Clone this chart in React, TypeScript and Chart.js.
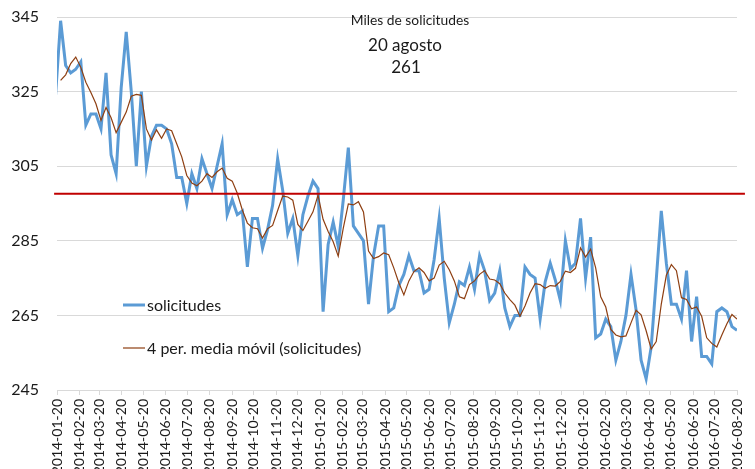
import React, { useEffect, useRef } from 'react';
import { Chart, registerables } from 'chart.js';

Chart.register(...registerables);

// Weekly initial claims (thousands), week ending Saturday, starting at this date
const firstWeekEnding = '2014-01-04';
const solicitudes: number[] = [
  326, 318, 324,
  344, 332, 330, 331, 333, 316, 319, 319, 315, 330,
  308, 303, 326, 341, 325, 305, 325, 305, 313, 316,
  316, 315, 311, 302, 302, 295, 303, 299, 307, 303,
  299, 305, 311, 292, 296, 292, 293, 278, 291, 291,
  283, 288, 294.5, 307, 298.5, 287, 291, 281, 292, 297,
  301, 299, 266, 284, 290, 283.5, 296, 310, 289, 287,
  285, 268, 281, 289, 289, 266, 267, 273, 276, 281,
  277, 277, 271, 272, 280, 291, 275, 263, 268, 274,
  273, 278, 272, 281, 277, 269, 271, 277, 267, 262,
  265, 265, 278, 276, 275, 264, 274, 279, 274.5, 269,
  285, 277.5, 279, 291, 275, 286, 259, 260, 264, 262,
  253, 258, 265, 276, 266.5, 253, 248, 256.5, 274.5, 293,
  279, 268, 268, 264, 277, 258, 270, 254, 254, 252,
  266, 267, 266, 262, 261,
];

const monthTicks: string[] = [
  '2014-01-20', '2014-02-20', '2014-03-20', '2014-04-20', '2014-05-20', '2014-06-20',
  '2014-07-20', '2014-08-20', '2014-09-20', '2014-10-20', '2014-11-20', '2014-12-20',
  '2015-01-20', '2015-02-20', '2015-03-20', '2015-04-20', '2015-05-20', '2015-06-20',
  '2015-07-20', '2015-08-20', '2015-09-20', '2015-10-20', '2015-11-20', '2015-12-20',
  '2016-01-20', '2016-02-20', '2016-03-20', '2016-04-20', '2016-05-20', '2016-06-20',
  '2016-07-20', '2016-08-20',
];

const yMin = 245;
const yMax = 345;
const yStep = 20;
const movingWindow = 4;
const referenceLevel = 297.6;
const referenceFrom = '2014-01-16';
const referenceTo = '2016-08-31';

const seriesName = 'solicitudes';
const averageName = '4 per. media móvil (solicitudes)';
const noteTitle = 'Miles de solicitudes';
const noteDate = '20 agosto';

const FONT = 'Lato, "Open Sans", sans-serif';
const TEXT = '#1a1a1a';
const DAY = 86400000;
const dayOf = (s: string) => Date.parse(s + 'T00:00:00Z') / DAY;

export default function App() {
  const canvasRef = useRef<HTMLCanvasElement | null>(null);

  useEffect(() => {
    const canvas = canvasRef.current;
    if (!canvas) return;

    const start = dayOf(firstWeekEnding);
    const points = solicitudes.map((v, i) => ({ x: start + 7 * i, y: v }));
    const average = solicitudes.map((_, i) => {
      if (i < movingWindow - 1) return { x: start + 7 * i, y: null as any };
      let s = 0;
      for (let j = i - movingWindow + 1; j <= i; j++) s += solicitudes[j];
      return { x: start + 7 * i, y: s / movingWindow };
    });
    const refLine = [
      { x: dayOf(referenceFrom), y: referenceLevel },
      { x: dayOf(referenceTo), y: referenceLevel },
    ];

    const overlay = {
      id: 'overlay',
      afterDatasetsDraw(chart: any) {
        const ctx = chart.ctx as CanvasRenderingContext2D;
        ctx.save();
        ctx.fillStyle = TEXT;
        ctx.textAlign = 'center';
        ctx.textBaseline = 'middle';
        ctx.font = `13.8px ${FONT}`;
        ctx.fillText(noteTitle, 410, 21);
        ctx.font = `17px ${FONT}`;
        ctx.fillText(noteDate, 405, 46);
        ctx.fillText(String(solicitudes[solicitudes.length - 1]), 406, 68);

        // legend
        const items = [chart.data.datasets[0], chart.data.datasets[1]];
        const rows = [305, 348];
        ctx.textAlign = 'left';
        ctx.font = `16px ${FONT}`;
        items.forEach((ds: any, i: number) => {
          const y = rows[i];
          ctx.strokeStyle = ds.borderColor;
          ctx.lineWidth = ds.borderWidth;
          ctx.beginPath();
          ctx.moveTo(123, y);
          ctx.lineTo(145, y);
          ctx.stroke();
          ctx.fillStyle = TEXT;
          ctx.fillText(ds.label, 147, y + 1);
        });
        ctx.restore();
      },
    };

    const chart = new Chart(canvas, {
      type: 'line',
      data: {
        datasets: [
          {
            label: seriesName,
            data: points,
            borderColor: '#5B9BD5',
            borderWidth: 3,
            pointRadius: 0,
            tension: 0,
            order: 2,
          },
          {
            label: averageName,
            data: average,
            borderColor: '#8E3F12',
            borderWidth: 1.2,
            pointRadius: 0,
            tension: 0,
            spanGaps: false,
            order: 1,
          },
          {
            label: 'referencia',
            data: refLine,
            borderColor: '#C00000',
            borderWidth: 2,
            pointRadius: 0,
            clip: false as any,
            order: 0,
          },
        ],
      },
      options: {
        responsive: false,
        animation: false,
        devicePixelRatio: 1,
        events: [],
        parsing: false as any,
        normalized: true,
        layout: { padding: { top: 17, right: 18, left: 0, bottom: 0 } },
        plugins: {
          legend: { display: false },
          tooltip: { enabled: false },
          title: { display: false },
        },
        scales: {
          x: {
            type: 'linear',
            min: dayOf(monthTicks[0]),
            max: dayOf(monthTicks[monthTicks.length - 1]),
            afterBuildTicks: (scale: any) => {
              scale.ticks = monthTicks.map((t) => ({ value: dayOf(t) }));
            },
            afterFit: (scale: any) => {
              scale.height = 79;
              scale.paddingLeft = 0;
              scale.paddingRight = 0;
            },
            grid: {
              drawOnChartArea: false,
              drawTicks: true,
              tickLength: 5,
              color: '#D9D9D9',
              lineWidth: 1,
            },
            border: { display: true, color: '#D9D9D9', width: 1 },
            ticks: {
              autoSkip: false,
              minRotation: 90,
              maxRotation: 90,
              padding: 4,
              color: TEXT,
              font: { family: FONT, size: 14 },
              callback: (_v: any, i: number) => monthTicks[i],
            },
          },
          y: {
            type: 'linear',
            min: yMin,
            max: yMax,
            afterFit: (scale: any) => {
              scale.width = 57;
              scale.paddingTop = 0;
              scale.paddingBottom = 0;
            },
            ticks: {
              stepSize: yStep,
              padding: 18,
              color: TEXT,
              font: { family: FONT, size: 16 },
            },
            grid: { drawTicks: false, color: '#D9D9D9', lineWidth: 1 },
            border: { display: false },
          },
        },
      } as any,
      plugins: [overlay],
    });

    return () => chart.destroy();
  }, []);

  return (
    <div style={{ position: 'fixed', left: 0, top: 0, width: 755, height: 469, background: '#fff' }}>
      <canvas ref={canvasRef} width={755} height={469} style={{ display: 'block' }} />
    </div>
  );
}
